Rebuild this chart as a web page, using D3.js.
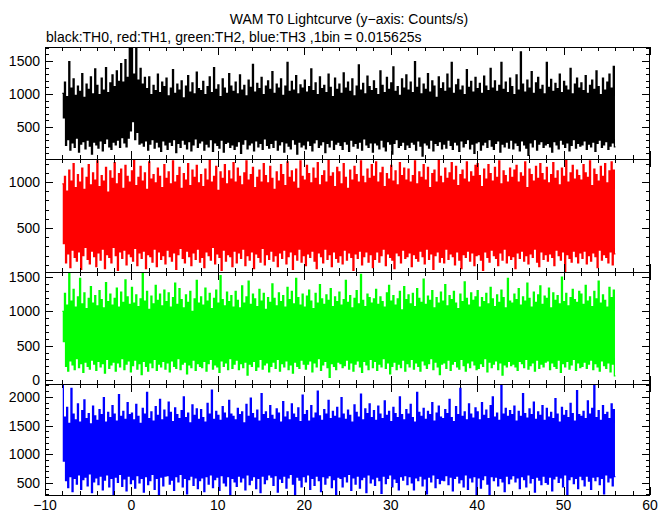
<!DOCTYPE html>
<html><head><meta charset="utf-8">
<script src="https://cdn.jsdelivr.net/npm/d3@7"></script>
<style>
body{margin:0;background:#fff}
svg{display:block}
text{font-family:"Liberation Sans",Arial,Helvetica,sans-serif;font-size:14px;fill:#000}
</style>
</head><body>
<svg id="chart" width="672" height="515"></svg>
<script>
// Light curve extremes: alternating high / low levels, one pair every 0.25 s (t = -8 .. 56 s)
const tStart = -8, tEnd = 56, pairStep = 0.25;

const th0Hi = [
1010,1180,960,1490,1090,1230,980,1120,1040,1310,950,1150,1070,1260,1000,1380,
1130,990,1240,1060,1400,1020,1170,1290,1110,1350,1190,1460,1180,1520,1250,1720,
1720,1300,1720,1210,1390,1150,1250,1080,1260,990,1130,1050,1300,1020,1180,1110,
1240,970,1090,1370,1010,1150,1060,1200,940,1120,1280,1030,1170,1000,1330,1080,
1050,1190,990,1110,1260,1020,1400,1070,1140,960,1230,1090,1010,1310,1120,1040,
1180,1000,1290,1060,1130,970,1210,1100,1450,1030,1160,1080,1250,990,1120,1200,
1070,1340,1010,1150,1090,1230,980,1120,1480,1040,1190,1060,1280,1000,1140,1090,
1210,1030,1110,1380,1050,1170,990,1260,1080,1130,1020,1300,1100,960,1240,1070,
1150,1010,1320,1090,1180,1040,1230,970,1120,1440,1060,1160,1000,1270,1110,1050,
1200,1080,990,1350,1130,1020,1250,1070,1170,1410,1040,1110,980,1230,1090,1290,
1060,1180,1020,1490,1100,1240,1000,1150,1070,1310,1030,1200,1120,950,1260,1080,
1170,1040,1300,1090,1480,1010,1140,1220,1060,1120,990,1370,1100,1190,1030,1250,
1080,1160,1010,1270,1120,1050,1390,1090,1200,1040,1130,1480,1070,1180,1020,1240,
1110,990,1290,1060,1640,1150,1030,1210,1090,1340,1010,1170,1250,1070,1130,1000,
1480,1100,1220,1040,1160,1080,1300,1020,1190,1120,1060,1390,1000,1150,1240,1090,
1170,1050,1280,1010,1130,1210,1070,1350,1110,990,1240,1060,1180,1300,1090,1420];
const th0Lo = [
640,220,310,150,260,190,330,120,240,280,170,300,210,90,270,230,
180,290,140,250,320,200,160,270,230,300,190,340,260,200,330,440,
580,310,420,240,260,210,290,150,240,310,180,270,200,130,290,230,
160,270,220,310,110,250,190,300,240,170,280,140,230,320,190,260,
290,150,240,200,310,130,260,220,180,300,120,250,270,190,230,160,
210,280,100,240,310,170,230,260,140,290,200,250,160,320,220,180,
250,190,300,150,230,280,120,260,210,170,310,240,90,270,200,230,
170,290,220,140,260,310,190,230,280,110,250,200,300,160,240,270,
220,160,280,240,130,300,210,250,180,270,150,320,230,190,260,120,
260,230,170,300,200,140,280,240,90,250,310,190,220,270,160,230,
190,270,240,150,290,210,60,260,230,180,300,140,250,220,280,170,
240,180,300,220,160,270,230,130,290,200,250,310,170,240,100,260,
280,150,230,270,190,310,210,160,250,290,120,240,200,270,180,300,
170,260,220,140,290,230,180,70,260,200,310,150,240,280,190,230,
250,200,120,280,230,170,300,240,190,260,140,220,310,180,250,210,
230,290,160,240,200,270,130,250,300,190,230,280,160,210,260,200];

const th1Hi = [
980,1060,900,1130,1010,1200,940,1080,1000,1150,920,1050,1190,970,1100,1020,
1230,950,1070,1010,1160,890,1120,1040,1210,980,1090,1140,930,1180,1060,1000,
1120,1240,960,1050,1170,1010,1100,920,1220,1030,1080,990,1150,1060,940,1190,
1040,1110,980,1230,1000,1070,1160,930,1090,1020,1200,960,1130,1050,1180,990,
1080,950,1140,1020,1240,1000,1060,1170,910,1110,1040,1190,980,1120,1030,1210,
1000,1150,1060,970,1100,1230,1020,1080,1160,940,1050,1130,1000,1200,1070,990,
1170,1040,920,1110,1010,1190,1080,960,1220,1050,1120,1000,1140,930,1230,1060,
1020,1180,1090,990,1150,1040,1210,970,1070,1120,1000,1240,1060,1100,950,1160,
1110,980,1200,1050,930,1130,1020,1170,1080,1000,1230,1060,990,1140,1040,1190,
1060,1220,1000,1100,1160,950,1090,1030,1180,1010,1120,970,1210,1070,1150,1020,
1140,1000,1070,1230,980,1110,1050,1190,1020,1160,940,1090,1130,1000,1240,1060,
990,1150,1040,1100,1210,1020,1170,960,1080,1130,1030,1220,1000,1110,1060,1180,
1200,1070,950,1140,1030,1190,1090,1010,1160,1050,1230,980,1120,1070,1000,1150,
1050,1130,1180,1000,1100,1060,1220,940,1140,1080,1010,1170,1040,1200,1090,1020,
1160,990,1080,1210,1040,1120,970,1150,1060,1240,1000,1100,1180,1030,1130,1070,
1020,1190,1100,1050,1230,960,1140,1080,1010,1170,1060,1200,990,1120,1220,1130];
const th1Lo = [
330,120,220,70,260,180,140,240,50,200,290,160,110,250,190,80,
230,150,270,60,210,180,120,290,200,40,240,170,260,100,220,190,
140,280,90,230,170,250,60,210,190,130,270,80,240,160,200,110,
260,190,140,230,50,210,280,170,120,250,190,90,230,160,270,130,
180,70,240,200,150,290,110,220,180,40,260,140,210,190,80,250,
120,230,170,270,90,200,150,240,60,220,180,130,280,100,210,160,
250,140,200,80,230,170,260,110,190,240,50,210,150,270,130,200,
90,220,180,250,140,60,230,190,120,270,160,210,80,240,170,130,
200,110,260,150,230,180,40,220,170,250,100,190,240,130,210,70,
160,240,130,200,270,90,220,180,150,60,230,200,120,260,170,190,
230,80,210,170,140,250,190,110,270,160,220,50,200,240,130,180,
120,270,160,220,190,100,240,150,60,210,180,250,140,230,90,200,
210,150,40,240,180,130,260,200,170,90,230,150,270,120,200,160,
190,60,230,170,250,140,200,110,220,180,270,130,80,240,160,210,
140,220,180,90,260,200,150,240,30,210,170,130,250,190,120,230,
170,250,110,200,140,230,190,70,260,150,210,180,120,240,100,220];

const th2Hi = [
1000,1260,1090,1560,1150,1320,1060,1210,1480,1110,1270,1040,1190,1360,1120,1230,
1080,1300,1170,1050,1420,1140,1250,1090,1190,1340,1060,1280,1130,1460,1210,1100,
1350,1120,1240,1070,1180,1560,1150,1290,1030,1220,1110,1380,1160,1250,1080,1310,
1140,1270,1060,1200,1410,1100,1330,1170,1050,1240,1130,1290,1000,1180,1450,1120,
1210,1090,1340,1150,1260,1040,1190,1310,1120,1520,1170,1080,1280,1140,1230,1060,
1290,1160,1050,1370,1120,1210,1440,1100,1250,1180,1070,1320,1150,1260,1030,1200,
1130,1400,1190,1080,1270,1140,1230,1060,1350,1170,1290,1110,1480,1200,1090,1250,
1060,1220,1310,1150,1040,1260,1120,1390,1180,1100,1240,1160,1330,1070,1210,1140,
1280,1090,1170,1450,1130,1230,1050,1190,1300,1110,1540,1160,1070,1250,1200,1120,
1180,1320,1100,1210,1140,1060,1270,1380,1150,1230,1090,1180,1290,1020,1360,1170,
1240,1110,1260,1070,1330,1190,1130,1470,1100,1220,1160,1300,1050,1200,1120,1280,
1150,1390,1080,1230,1170,1290,1120,1040,1250,1140,1430,1190,1090,1270,1160,1210,
1300,1060,1200,1140,1260,1110,1350,1180,1070,1240,1130,1310,1200,1050,1480,1150,
1120,1250,1170,1330,1090,1210,1150,1410,1190,1060,1280,1130,1240,1370,1100,1220,
1190,1340,1050,1270,1160,1230,1110,1500,1140,1260,1080,1200,1320,1170,1130,1290,
1250,1100,1380,1150,1210,1070,1290,1180,1440,1120,1240,1160,1060,1350,1200,1310];
const th2Lo = [
560,200,130,280,220,150,310,180,240,110,260,200,160,290,230,140,
270,190,240,100,300,170,220,260,130,250,190,310,150,230,280,120,
210,290,160,240,80,270,200,130,250,180,300,140,230,190,270,160,
250,120,280,200,170,310,150,230,260,90,220,180,290,140,240,200,
180,270,130,240,300,160,220,190,110,280,200,250,150,310,170,230,
290,150,240,180,260,70,230,200,270,140,190,300,160,220,250,120,
200,260,170,300,130,240,190,280,150,220,100,260,200,170,290,230,
160,230,280,120,250,190,310,140,220,270,180,40,240,200,150,260,
240,180,210,290,160,250,130,230,280,190,110,270,220,150,300,180,
270,140,230,190,310,170,250,90,200,260,150,230,180,290,130,240,
190,300,160,250,200,130,280,220,170,240,310,150,260,190,80,230,
250,170,290,140,230,270,190,160,300,210,130,250,180,280,220,150,
170,240,200,310,120,260,180,230,280,150,250,70,220,190,270,210,
230,190,140,270,240,180,300,160,210,250,130,290,170,230,190,260,
280,150,250,200,170,290,110,240,190,270,160,220,300,140,250,180,
200,260,170,230,290,150,240,190,130,280,210,170,250,120,230,60];

const th3Hi = [
2220,1650,1820,1540,2150,1700,1600,1880,1560,1760,1950,1620,1710,1530,1840,1670,
1590,1780,1690,1990,1560,1730,1640,1850,1700,1580,2040,1660,1750,1610,1900,1690,
1720,1600,1870,1660,1540,1800,1700,2080,1620,1740,1580,1830,1680,1960,1600,1770,
1650,1910,1730,1570,1810,1690,1620,1760,2000,1640,1720,1550,1860,1680,1790,1610,
1780,1640,1560,1890,1700,2120,1610,1750,1680,1590,1830,1720,1630,1940,1700,1660,
1600,1800,1690,1740,1550,1870,1660,1980,1710,1630,1770,1580,2060,1690,1740,1620,
1850,1680,1610,1790,1720,1560,1920,1650,1740,1600,1880,1700,1640,1810,1570,2030,
1690,1760,1580,1850,1630,1720,2100,1670,1590,1780,1700,1940,1620,1750,1660,1820,
1630,1990,1700,1610,1770,1680,1560,1860,1730,1650,2050,1600,1790,1710,1880,1640,
1760,1590,1840,1700,1620,1930,1680,1750,1570,1820,1710,1640,2000,1690,1600,1780,
1700,1870,1640,1560,2080,1730,1660,1800,1610,1750,1690,1900,1580,1720,1840,1650,
1620,1780,1710,1960,1640,1570,1830,1690,2150,1660,1740,1600,1880,1700,1630,1810,
1740,1600,1900,1680,1770,1620,1850,2000,1650,1720,1590,2220,1700,1800,1660,1760,
1690,1840,1580,1750,1660,2060,1710,1630,1790,1690,1910,1610,1740,1680,1850,1590,
1800,1650,1730,1620,1970,1700,1560,1820,1680,1760,1640,1890,1710,1580,2110,1690,
1660,1750,1620,1930,1700,1800,2220,1640,1760,1590,1850,1690,1730,1620,1880,1780];
const th3Lo = [
880,540,420,610,350,580,480,640,390,560,600,450,660,330,520,590,
470,620,380,550,640,430,580,300,600,510,650,440,570,360,620,490,
560,410,630,500,580,340,610,470,540,650,390,580,300,600,450,620,
630,480,550,370,610,520,650,430,580,310,560,620,460,590,400,540,
590,350,610,480,640,420,560,600,370,630,500,450,610,290,580,520,
440,620,520,590,380,640,470,550,610,400,580,330,620,490,560,640,
600,460,630,340,570,510,620,410,590,650,480,300,600,550,430,610,
520,640,390,580,460,620,540,350,610,480,590,630,420,560,300,600,
580,430,610,520,650,370,590,480,620,410,560,600,330,640,500,570,
460,600,540,320,620,490,580,640,430,570,510,380,610,550,630,470,
610,500,380,590,540,620,450,570,310,600,520,640,420,580,490,550,
540,630,470,600,360,580,620,500,560,430,640,390,590,520,610,300,
590,410,560,630,480,300,610,540,600,450,580,520,350,620,490,570,
630,520,590,400,610,560,430,640,500,580,340,600,550,470,620,510,
480,600,360,570,620,510,590,430,640,300,560,610,490,580,400,620,
560,450,620,530,390,600,540,610,470,580,310,640,520,590,450,610];

const seriesNames = ["TH0","TH1","TH2","TH3"];
const seriesColors = ["#000000","#ff0000","#00ff00","#0000ff"];
const yDomains = [[15,1712],[22,1250],[-58,1573],[290,2226]];
const yTickLabels = [[500,1000,1500],[500,1000],[0,500,1000,1500],[500,1000,1500,2000]];
const xTickLabels = [-10,0,10,20,30,40,50,60];
const titleText = "WAM T0 Lightcurve (y\u2212axis: Counts/s)";
const subtitleText = "black:TH0, red:TH1, green:TH2, blue:TH3 ,1bin = 0.015625s";

const his = [th0Hi, th1Hi, th2Hi, th3Hi];
const los = [th0Lo, th1Lo, th2Lo, th3Lo];

const svg = d3.select("#chart");
const left = 45, right = 650;
const bounds = [47, 159, 272, 384, 495];
const x = d3.scaleLinear().domain([-10, 60]).range([left, right]);

svg.append("text").attr("x", 349).attr("y", 24).attr("text-anchor", "middle").text(titleText);
svg.append("text").attr("x", 46).attr("y", 42).text(subtitleText);

const fmtMinus = v => (v < 0 ? "\u2212" + Math.abs(v) : String(v));

seriesNames.forEach((name, p) => {
  const top = bounds[p], bot = bounds[p + 1];
  const y = d3.scaleLinear().domain(yDomains[p]).range([bot, top]);
  const g = svg.append("g");
  const clipId = "clip" + p;
  svg.append("clipPath").attr("id", clipId).append("rect")
    .attr("x", left).attr("y", top).attr("width", right - left).attr("height", bot - top);
  const col = seriesColors[p];

  const pts = [];
  his[p].forEach((h, i) => {
    const t = tStart + i * pairStep;
    pts.push([t, h]);
    pts.push([t + pairStep / 2, los[p][i]]);
  });
  pts.push([tEnd, los[p][los[p].length - 1]]);
  const line = d3.line().x(d => x(d[0])).y(d => y(d[1])).curve(d3.curveStepAfter);
  g.append("path").attr("clip-path", `url(#${clipId})`)
    .attr("d", line(pts)).attr("fill", "none")
    .attr("stroke", col).attr("stroke-width", 1.25);

  // frame
  g.append("rect").attr("x", left + 0.5).attr("y", top + 0.5).attr("width", right - left - 1).attr("height", bot - top)
    .attr("fill", "none").attr("stroke", "#000").attr("stroke-width", 1);

  // y ticks (minor every 100, major every 500) on both sides
  const yt = d3.range(Math.ceil(yDomains[p][0] / 100) * 100, yDomains[p][1] + 1, 100);
  yt.forEach(v => {
    const len = v % 500 === 0 ? 8 : 4;
    const yy = Math.round(y(v)) + 0.5;
    g.append("line").attr("x1", left).attr("x2", left + len).attr("y1", yy).attr("y2", yy).attr("stroke", "#000");
    g.append("line").attr("x1", right).attr("x2", right - len).attr("y1", yy).attr("y2", yy).attr("stroke", "#000");
  });
  yTickLabels[p].forEach(v => {
    g.append("text").attr("x", 40).attr("y", y(v)).attr("dy", "0.36em")
      .attr("text-anchor", "end").text(fmtMinus(v));
  });

  // x ticks top & bottom
  d3.range(-10, 61, 2).forEach(v => {
    const len = v % 10 === 0 ? 8 : 4;
    const xx = Math.round(x(v)) + 0.5;
    g.append("line").attr("x1", xx).attr("x2", xx).attr("y1", top).attr("y2", top + len).attr("stroke", "#000");
    g.append("line").attr("x1", xx).attr("x2", xx).attr("y1", bot).attr("y2", bot - len).attr("stroke", "#000");
  });
});

xTickLabels.forEach(v => {
  svg.append("text").attr("x", x(v)).attr("y", 510).attr("text-anchor", "middle").text(fmtMinus(v));
});
</script>
</body></html>
